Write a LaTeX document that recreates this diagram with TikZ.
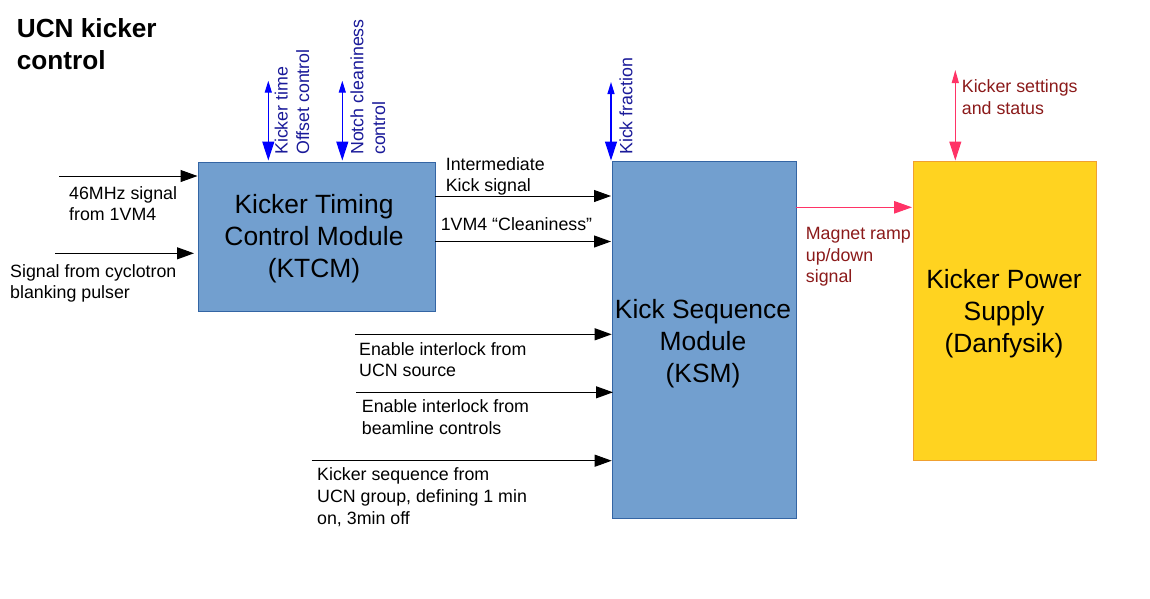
\documentclass[tikz,border=0pt]{standalone}
\usepackage{fontspec}
\setmainfont{Liberation Sans}
\usetikzlibrary{arrows.meta}
\definecolor{boxblue}{HTML}{729FCF}
\definecolor{boxedge}{HTML}{3465A4}
\definecolor{psyellow}{HTML}{FFD320}
\definecolor{psedge}{HTML}{F0A030}
\definecolor{ctlblue}{HTML}{0000FF}
\definecolor{ctltext}{HTML}{1A1A99}
\definecolor{pinkline}{HTML}{FF3366}
\definecolor{redtext}{HTML}{8B1A1A}
\begin{document}
\begin{tikzpicture}[x=1pt,y=-1pt,
  lbl/.style={inner sep=0pt, align=left, anchor=base west, font=\fontsize{17.8}{21.7}\selectfont},
  bigtext/.style={inner sep=0pt, align=center, anchor=base, font=\fontsize{26.4}{32}\selectfont},
  module/.style={draw=boxedge, fill=boxblue, line width=1pt, inner sep=0pt, anchor=north west},
  supply/.style={draw=psedge, fill=psyellow, line width=1pt, inner sep=0pt, anchor=north west},
  sig/.style={line width=1pt, -{Triangle[length=17pt,width=12pt]}},
  ctl/.style={draw=ctlblue, line width=1.3pt, {Triangle[length=12pt,width=7pt]}-{Triangle[length=19pt,width=12pt]}},
  pwr/.style={draw=pinkline, fill=pinkline, line width=1pt},
]
\useasboundingbox (0,0) rectangle (1150,598);

% title (anchor = baseline of last line)
\node[lbl, font=\bfseries\fontsize{26.2}{31.7}\selectfont] (title) at (16.7,69.4) {UCN kicker\\control};

% boxes
\node[module, minimum width=237pt, minimum height=149.5pt] (ktcm) at (198.3,161.5) {};
\node[module, minimum width=183.4pt, minimum height=357pt] (ksm) at (612.3,161) {};
\node[supply, minimum width=182.4pt, minimum height=299pt] (kps) at (913.3,161) {};

\node[bigtext] (ktcmtext) at (314,277) {Kicker Timing\\Control Module\\(KTCM)};
\node[bigtext] (ksmtext) at (703,382.3) {Kick Sequence\\Module\\(KSM)};
\node[bigtext] (kpstext) at (1004,352.3) {Kicker Power\\Supply\\(Danfysik)};

% left inputs to KTCM
\coordinate (in1) at (59.3,176);
\coordinate (in1e) at (197.5,176);
\coordinate (in2) at (55,253.3);
\coordinate (in2e) at (194,253.3);
\draw[sig] (in1) -- (in1e);
\draw[sig] (in2) -- (in2e);
\node[lbl] (l46) at (69,220.7) {46MHz signal\\from 1VM4};
\node[lbl] (lcyc) at (10,298.7) {Signal from cyclotron\\blanking pulser};

% KTCM -> KSM
\coordinate (k1s) at (435.3,196);
\coordinate (k1e) at (611,196);
\coordinate (k2s) at (435.3,241.5);
\coordinate (k2e) at (611,241.5);
\draw[sig] (k1s) -- (k1e);
\draw[sig] (k2s) -- (k2e);
\node[lbl] (lint) at (445.6,191.7) {Intermediate\\Kick signal};
\node[lbl] (lcln) at (440.6,230) {1VM4 “Cleaniness”};

% other inputs to KSM
\coordinate (e1s) at (355,334.3);
\coordinate (e1e) at (611.7,334.3);
\coordinate (e2s) at (356,392.3);
\coordinate (e2e) at (613,392.3);
\coordinate (e3s) at (311.7,460.7);
\coordinate (e3e) at (611.7,460.7);
\draw[sig] (e1s) -- (e1e);
\draw[sig] (e2s) -- (e2e);
\draw[sig] (e3s) -- (e3e);
\node[lbl] (lucn) at (359,376.7) {Enable interlock from\\UCN source};
\node[lbl] (lbl2) at (361.7,434.4) {Enable interlock from\\beamline controls};
\node[lbl] (lseq) at (317,524.1) {Kicker sequence from\\UCN group, defining 1 min\\on, 3min off};

% blue control arrows
\coordinate (c1t) at (268.3,80.7);
\coordinate (c1b) at (268.3,160.5);
\coordinate (c2t) at (342.3,80.7);
\coordinate (c2b) at (342.3,160.5);
\coordinate (c3t) at (611,82);
\coordinate (c3b) at (611,160.5);
\draw[ctl] (c1t) -- (c1b);
\draw[ctl] (c2t) -- (c2b);
\draw[ctl] (c3t) -- (c3b);
\node[lbl, rotate=90, text=ctltext] (lkt) at (309.2,155) {Kicker time\\Offset control};
\node[lbl, rotate=90, text=ctltext] (lnc) at (385,155) {Notch cleaniness\\control};
\node[lbl, rotate=90, text=ctltext] (lkf) at (632.3,155) {Kick fraction};

% KSM -> power supply
\coordinate (ms) at (795.7,207.3);
\coordinate (me) at (912,207.3);
\draw[pwr, -{Triangle[length=18pt,width=12.5pt]}] (ms) -- (me);
\node[lbl, text=redtext] (lmag) at (805.7,282.7) {Magnet ramp\\up/down\\signal};

% settings arrow
\coordinate (st) at (955.3,70);
\coordinate (sb) at (955.3,160.5);
\draw[pwr, {Triangle[length=13pt,width=7pt]}-{Triangle[length=19pt,width=12pt]}] (st) -- (sb);
\node[lbl, text=redtext] (lset) at (961.7,114) {Kicker settings\\and status};
\end{tikzpicture}
\end{document}
